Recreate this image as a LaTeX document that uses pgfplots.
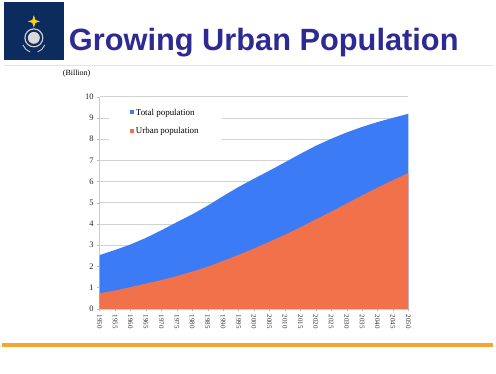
\documentclass[border=0pt]{standalone}
\usepackage{pgfplots}
\pgfplotsset{compat=1.18}
\usepackage{fontspec}
\setmainfont{Liberation Serif}
\newfontfamily\titlefont{Liberation Sans}
\definecolor{navy}{HTML}{0C2B5E}
\definecolor{titleblue}{HTML}{2D2A92}
\definecolor{totblue}{HTML}{3B7CF6}
\definecolor{urborange}{HTML}{F0714A}
\definecolor{barorange}{HTML}{F6A530}
\definecolor{thinline}{HTML}{DDE5F0}
\begin{document}
\begin{tikzpicture}[x=1bp,y=1bp]
\fill[white] (0,0) rectangle (496,375);
% logo
\fill[navy] (2,315) rectangle (62,373);
\draw[gray!40,line width=1.2pt] (32,337) circle (9);
\fill[gray!30] (32,337) circle (6);
\draw[gray!50,line width=1pt] (21,330) arc[start angle=200,end angle=250,radius=12];
\draw[gray!50,line width=1pt] (43,330) arc[start angle=-20,end angle=-70,radius=12];
\fill[yellow!70!orange] (32,360) -- (33.5,355) -- (38,353.5) -- (33.5,352) -- (32,347) -- (30.5,352) -- (26,353.5) -- (30.5,355) -- cycle;
% title
\node[anchor=base west,inner sep=0pt,text=titleblue,font=\titlefont\bfseries\fontsize{31}{33}\selectfont] at (67,324) {Growing Urban Population};
\draw[thinline,line width=1.5pt] (2,309) -- (494,309);
% bottom orange line
\draw[barorange,line width=4pt] (0,29) -- (493,29);
\node[anchor=base west,inner sep=0pt,font=\fontsize{8}{9}\selectfont] at (61,299) {(Billion)};
\begin{axis}[
  at={(98bp,65bp)}, anchor=south west,
  scale only axis, width=310bp, height=213bp,
  xmin=1950, xmax=2050, ymin=0, ymax=10,
  xtick={1950,1955,...,2050},
  xticklabel style={rotate=-90, anchor=west, font=\fontsize{7}{8}\selectfont, text=black!80},
  /pgf/number format/1000 sep={},
  /pgf/number format/assume math mode=true,
  ytick={0,1,...,10},
  yticklabel style={font=\fontsize{8.5}{9}\selectfont, text=black!85},
  ymajorgrids, major grid style={gray!35, line width=0.5pt},
  axis line style={gray!40},
  axis x line*=bottom, axis y line*=left,
  x axis line style={draw=none},
  major tick length=2.5pt,
  xtick style={gray!60}, ytick style={gray!50},
  tick align=outside,
  xtick pos=bottom, ytick pos=left,
  legend style={at={(0.03,0.97)}, anchor=north west, draw=none, fill=white,
    font=\fontsize{9}{10}\selectfont, row sep=7pt, inner xsep=21bp, inner ysep=4bp},
  legend cell align=left,
  legend image code/.code={\fill[#1] (0pt,-1.2pt) rectangle (4pt,2.8pt);},
]
\addplot[fill=totblue, draw=none] coordinates {
(1950,2.53) (1955,2.77) (1960,3.03) (1965,3.34) (1970,3.70) (1975,4.08)
(1980,4.45) (1985,4.86) (1990,5.31) (1995,5.74) (2000,6.13) (2005,6.51)
(2010,6.90) (2015,7.30) (2020,7.68) (2025,8.01) (2030,8.31) (2035,8.57)
(2040,8.80) (2045,9.00) (2050,9.19)} \closedcycle;
\addlegendentry{Total population}
\addplot[fill=urborange, draw=none] coordinates {
(1950,0.73) (1955,0.86) (1960,1.02) (1965,1.19) (1970,1.35) (1975,1.54)
(1980,1.75) (1985,1.98) (1990,2.26) (1995,2.54) (2000,2.84) (2005,3.16)
(2010,3.49) (2015,3.84) (2020,4.21) (2025,4.58) (2030,4.96) (2035,5.34)
(2040,5.71) (2045,6.06) (2050,6.40)} \closedcycle;
\addlegendentry{Urban population}
\end{axis}
\end{tikzpicture}
\end{document}
